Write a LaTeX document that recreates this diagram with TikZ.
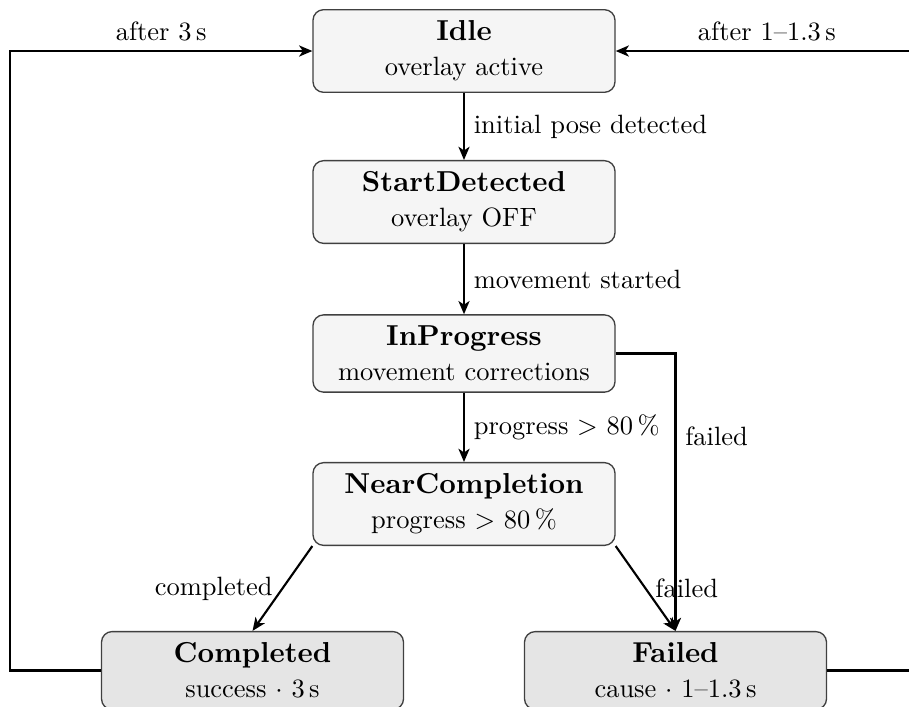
\documentclass[tikz,border=0pt]{standalone}
\usetikzlibrary{arrows.meta}
\newcommand{\statetitle}[1]{{\fontsize{10.9}{13}\selectfont\bfseries #1}}
\begin{document}
\begin{tikzpicture}[
  x=0.3778pt, y=-0.3778pt,
  state/.style={draw=black!75, line width=0.5pt, rounded corners=4pt,
    fill=black!4, minimum width=114.1pt, inner xsep=4pt, inner ysep=4.2pt,
    align=center, font=\normalsize},
  final/.style={state, fill=black!10},
  trans/.style={line width=0.8pt, -{Stealth[length=5pt, width=4.2pt, inset=1.4pt]}},
  lbl/.style={font=\normalsize, inner sep=3.33pt}
]
\useasboundingbox (0,0) rectangle (909,706);
\clip (0,0) rectangle (909,706);

% states
\node[state] (idle)  at (464,51)    {\statetitle{Idle}\\[1.2pt]overlay active};
\node[state] (start) at (464,202)   {\statetitle{StartDetected}\\[1.2pt]overlay OFF};
\node[state] (prog)  at (464,353.5) {\statetitle{InProgress}\\[1.2pt]movement corrections};
\node[state] (near)  at (464,504)   {\statetitle{NearCompletion}\\[1.2pt]progress $>$ 80\,\%};
\node[final] (done)  at (252.5,670.5) {\statetitle{Completed}\\[1.2pt]success $\cdot$ 3\,s};
\node[final] (fail)  at (675.5,670.5) {\statetitle{Failed}\\[1.2pt]cause $\cdot$ 1--1.3\,s};

% corners of the two return paths
\coordinate (lt) at (10,51);
\coordinate (lb) at (10,670.5);
\coordinate (rt) at (918,51);
\coordinate (rb) at (918,670.5);

% transitions
\draw[trans] (idle) -- node[lbl, right] {initial pose detected} (start);
\draw[trans] (start) -- node[lbl, right] {movement started} (prog);
\draw[trans] (prog) -- node[lbl, right] {progress $>$ 80\,\%} (near);
\draw[trans] (prog.east) -| node[lbl, right, pos=0.65] {failed} (fail.north);
\draw[trans] (near.south west) -- node[lbl, left] {completed} (done.north);
\draw[trans] (near.south east) -- node[lbl, right] {failed} (fail.north);
\draw[trans] (done.west) -- (lb) -- (lt) -- node[lbl, above] {after 3\,s} (idle.west);
\draw[trans] (fail.east) -- (rb) -- (rt) -- node[lbl, above] {after 1--1.3\,s} (idle.east);
\end{tikzpicture}
\end{document}
